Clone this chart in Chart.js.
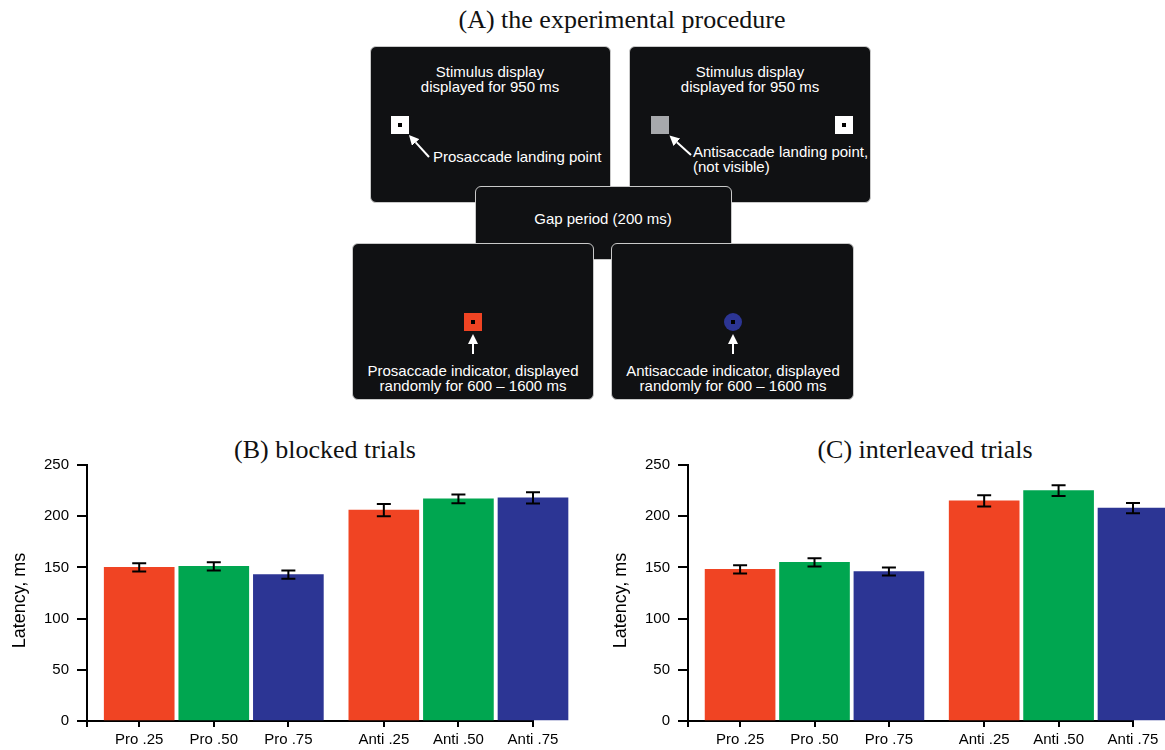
<!DOCTYPE html>
<html>
<head>
<meta charset="utf-8">
<title>Prosaccade and antisaccade latency</title>
<script src="https://cdn.jsdelivr.net/npm/chart.js@4.4.1/dist/chart.umd.min.js"></script>
<style>
  html, body { margin: 0; padding: 0; background: #fff; }
  #page { position: relative; width: 1165px; height: 750px; overflow: hidden; font-family: "Liberation Sans", Arial, sans-serif; }
  .panel-title { position: absolute; font-family: "Liberation Serif", "Times New Roman", serif; font-size: 26px; line-height: 30px; color: #111; white-space: nowrap; transform: translateX(-50%); }
  .screen { position: absolute; background: #101113; border: 1px solid #c9c9c9; border-radius: 6px; box-sizing: border-box; }
  .caption { position: absolute; color: #fff; font-size: 15px; line-height: 15px; white-space: nowrap; }
  .center { transform: translateX(-50%); text-align: center; }
  #marks { position: absolute; left: 0; top: 0; }
  canvas { position: absolute; top: 430px; }
</style>
</head>
<body>
<div id="page">
  <!-- (A) procedure diagram -->
  <div class="panel-title" style="left:622px; top:5px;">(A) the experimental procedure</div>

  <div class="screen" style="left:370px; top:46px; width:241px; height:157px;"></div>
  <div class="screen" style="left:629px; top:46px; width:242px; height:157px;"></div>
  <div class="screen" style="left:475px; top:186px; width:257px; height:74px;"></div>
  <div class="screen" style="left:352px; top:243px; width:242px; height:157px;"></div>
  <div class="screen" style="left:611px; top:243px; width:243px; height:157px;"></div>

  <div class="caption center" style="left:490px; top:64px;">Stimulus display<br>displayed for 950 ms</div>
  <div class="caption" style="left:433px; top:149px;">Prosaccade landing point</div>
  <div class="caption center" style="left:750px; top:64px;">Stimulus display<br>displayed for 950 ms</div>
  <div class="caption" style="left:693px; top:144px;">Antisaccade landing point,<br>(not visible)</div>
  <div class="caption center" style="left:603px; top:211px;">Gap period (200 ms)</div>
  <div class="caption center" style="left:473px; top:363px;">Prosaccade indicator, displayed<br>randomly for 600 – 1600 ms</div>
  <div class="caption center" style="left:733px; top:363px;">Antisaccade indicator, displayed<br>randomly for 600 – 1600 ms</div>

  <svg id="marks" width="1165" height="410">
    <defs>
      <marker id="head" viewBox="0 0 10 10" refX="0" refY="5" markerUnits="userSpaceOnUse" markerWidth="10" markerHeight="10" orient="auto">
        <path d="M0,0 L10,5 L0,10 z" fill="#fff"/>
      </marker>
    </defs>
    <rect x="391" y="116" width="18" height="18" fill="#fff"/>
    <rect x="398" y="123" width="4" height="4" fill="#000"/>
    <line x1="429" y1="157" x2="415.7" y2="142.4" stroke="#fff" stroke-width="2" marker-end="url(#head)"/>

    <rect x="651" y="116" width="18" height="18" fill="#a7a9ac"/>
    <rect x="835" y="116" width="18" height="18" fill="#fff"/>
    <rect x="842" y="123" width="4" height="4" fill="#000"/>
    <line x1="691" y1="155" x2="676.9" y2="142.2" stroke="#fff" stroke-width="2" marker-end="url(#head)"/>

    <rect x="464" y="313" width="18" height="18" fill="#f04423"/>
    <rect x="471" y="320" width="4" height="4" fill="#000"/>
    <line x1="473" y1="354" x2="473" y2="344" stroke="#fff" stroke-width="2" marker-end="url(#head)"/>

    <circle cx="733" cy="322" r="9" fill="#2c3594"/>
    <rect x="731" y="320" width="4" height="4" fill="#000"/>
    <line x1="733" y1="354" x2="733" y2="344" stroke="#fff" stroke-width="2" marker-end="url(#head)"/>
  </svg>

  <!-- (B) and (C) bar charts -->
  <div class="panel-title" style="left:325px; top:435px;">(B) blocked trials</div>
  <div class="panel-title" style="left:925px; top:435px;">(C) interleaved trials</div>
  <canvas id="blockedChart" width="590" height="320" style="left:0px;"></canvas>
  <canvas id="interleavedChart" width="564" height="320" style="left:601px;"></canvas>
</div>

<script>
// bar positions along the x axis (a wider gap between the pro and anti groups)
const positions = [1, 2, 3, 4.28, 5.28, 6.28];
const xMin = 0.3;
const conditionLabels = ['Pro .25', 'Pro .50', 'Pro .75', 'Anti .25', 'Anti .50', 'Anti .75'];
const barColors = ['#f04423', '#00a650', '#2c3594', '#f04423', '#00a650', '#2c3594'];
const yTicks = [0, 50, 100, 150, 200, 250];

// mean latency (ms) and error bar half-length
const blockedMeans = [150, 151, 143, 206, 217, 218];
const blockedErrors = [4, 4, 4, 6, 4.3, 5.5];
const interleavedMeans = [148, 155, 146, 215, 225, 208];
const interleavedErrors = [4, 4, 4, 5.5, 5.2, 5];

Chart.defaults.font.family = '"Liberation Sans", Arial, sans-serif';
Chart.defaults.color = '#000';

const errorBarPlugin = {
  id: 'errorBars',
  afterDatasetsDraw(chart, args, opts) {
    const ctx = chart.ctx;
    const yScale = chart.scales.y;
    const meta = chart.getDatasetMeta(0);
    const points = chart.data.datasets[0].data;
    ctx.save();
    ctx.strokeStyle = opts.color;
    ctx.lineWidth = opts.lineWidth;
    meta.data.forEach((bar, i) => {
      const top = yScale.getPixelForValue(points[i].y + opts.errors[i]);
      const bottom = yScale.getPixelForValue(points[i].y - opts.errors[i]);
      ctx.beginPath();
      ctx.moveTo(bar.x, top);
      ctx.lineTo(bar.x, bottom);
      ctx.moveTo(bar.x - opts.capWidth, top);
      ctx.lineTo(bar.x + opts.capWidth, top);
      ctx.moveTo(bar.x - opts.capWidth, bottom);
      ctx.lineTo(bar.x + opts.capWidth, bottom);
      ctx.stroke();
    });
    ctx.restore();
  }
};

function buildChart(canvasId, means, errors, rightPad) {
  return new Chart(document.getElementById(canvasId), {
    type: 'bar',
    data: {
      datasets: [{
        data: positions.map((x, i) => ({ x: x, y: means[i] })),
        backgroundColor: barColors,
        borderWidth: 0,
        barThickness: 70,
        clip: false
      }]
    },
    options: {
      responsive: false,
      animation: false,
      layout: { padding: { top: 35, left: 0, right: rightPad, bottom: 0 } },
      scales: {
        x: {
          type: 'linear',
          min: xMin,
          max: positions[positions.length - 1],
          offset: false,
          afterBuildTicks: (axis) => { axis.ticks = [xMin].concat(positions).map(v => ({ value: v })); },
          afterFit: (axis) => { axis.height = 29; },
          grid: { drawOnChartArea: false, tickLength: 6, color: '#000', lineWidth: 2, offset: false },
          border: { color: '#000', width: 2 },
          ticks: {
            autoSkip: false,
            maxRotation: 0,
            padding: 4,
            font: { size: 15 },
            callback: (value, index) => index === 0 ? '' : conditionLabels[index - 1]
          }
        },
        y: {
          min: 0,
          max: 250,
          afterBuildTicks: (axis) => { axis.ticks = yTicks.map(v => ({ value: v })); },
          afterFit: (axis) => { axis.width = 87; },
          grid: { drawOnChartArea: false, tickLength: 10, color: '#000', lineWidth: 2 },
          border: { color: '#000', width: 2 },
          ticks: { padding: 8, font: { size: 15 } },
          // trailing spaces nudge the label a little below the axis centre, as in the original
          title: { display: true, text: 'Latency, ms   ', font: { size: 18 }, padding: { top: 9, bottom: 0 } }
        }
      },
      plugins: {
        legend: { display: false },
        tooltip: { enabled: false },
        errorBars: { errors: errors, color: '#000', lineWidth: 2, capWidth: 7 }
      }
    },
    plugins: [errorBarPlugin]
  });
}

buildChart('blockedChart', blockedMeans, blockedErrors, 57);
buildChart('interleavedChart', interleavedMeans, interleavedErrors, 32);
</script>
</body>
</html>
